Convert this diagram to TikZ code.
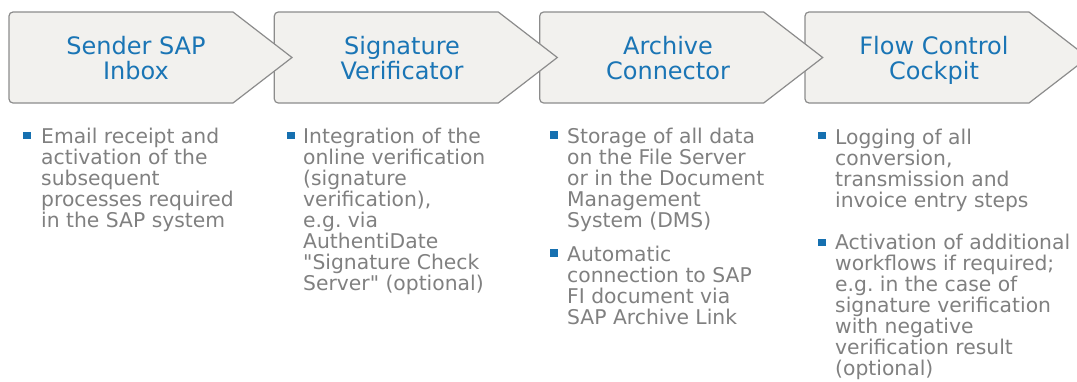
\documentclass[tikz,border=0pt]{standalone}
\usepackage{fontspec}
\setmainfont{DejaVu Sans}
\usetikzlibrary{positioning}
\frenchspacing

\definecolor{chevfill}{HTML}{F2F1EE}
\definecolor{chevline}{HTML}{8C8C8C}
\definecolor{titleblue}{HTML}{1A75B5}
\definecolor{bulletblue}{HTML}{1670B0}
\definecolor{textgray}{HTML}{808080}

\begin{document}
\begin{tikzpicture}[
    x=1pt, y=-1pt,
    chevron_style/.style={draw=chevline, fill=chevfill, line width=1.2pt, line join=miter},
    title_style/.style={anchor=north, inner sep=0pt, align=center, text=titleblue,
        font=\fontsize{24}{25}\selectfont},
    item_style/.style={anchor=north west, inner sep=0pt, align=left, text=textgray,
        font=\fontsize{20.3}{21}\selectfont},
    bullet_style/.style={fill=bulletblue, inner sep=0pt, minimum size=7.5pt}
]
\useasboundingbox (0,0) rectangle (1077,381);
\clip (0,0) rectangle (1077,381);

% PROCESS CHEVRONS (drawn right to left, so each tip lies on the next box)
\foreach \x in {805,539.7,274.3,9} {
    \draw[chevron_style] (\x+150,12) [rounded corners=4pt] -- (\x,12) -- (\x,103)
        -- (\x+150,103) [sharp corners] -- (\x+224,103) -- (\x+283,57.5)
        -- (\x+224,12) -- cycle;
}

% Step titles
\node[title_style] (t_inbox) at (136,34) {\rule{0pt}{20pt}Sender SAP\\Inbox};
\node[title_style] (t_verif) at (402,34) {\rule{0pt}{20pt}Signature\\Verificator};
\node[title_style] (t_archive) at (668,34) {\rule{0pt}{20pt}Archive\\Connector};
\node[title_style] (t_cockpit) at (934,34) {\rule{0pt}{20pt}Flow Control\\Cockpit};

% BULLET LISTS BELOW THE STEPS

% Sender SAP Inbox
\node[item_style] (i_inbox) at (41,127) {\rule{0pt}{16pt}Email receipt and\\activation of the\\subsequent\\processes required\\in the SAP system};
\node[bullet_style] (b_inbox) at (27,135.5) {};

% Signature Verificator
\node[item_style] (i_verif) at (303,127) {\rule{0pt}{16pt}Integration of the\\online verification\\(signature\\verification),\\e.g. via\\AuthentiDate\\\textquotedbl Signature Check\\Server\textquotedbl{} (optional)};
\node[bullet_style] (b_verif) at (291,135.5) {};

% Archive Connector
\node[item_style] (i_store) at (567,127) {\rule{0pt}{16pt}Storage of all data\\on the File Server\\or in the Document\\Management\\System (DMS)};
\node[bullet_style] (b_store) at (554,135) {};
\node[item_style] (i_link) at (567,245) {\rule{0pt}{16pt}Automatic\\connection to SAP\\FI document via\\SAP Archive Link};
\node[bullet_style] (b_link) at (554,253) {};

% Flow Control Cockpit
\node[item_style] (i_log) at (835,128) {\rule{0pt}{16pt}Logging of all\\conversion,\\transmission and\\invoice entry steps};
\node[bullet_style] (b_log) at (822,135.5) {};
\node[item_style] (i_wf) at (835,233.3) {\rule{0pt}{16pt}Activation of additional\\workflows if required;\\e.g. in the case of\\signature verification\\with negative\\verification result\\(optional)};
\node[bullet_style] (b_wf) at (822,242.5) {};

\end{tikzpicture}
\end{document}
